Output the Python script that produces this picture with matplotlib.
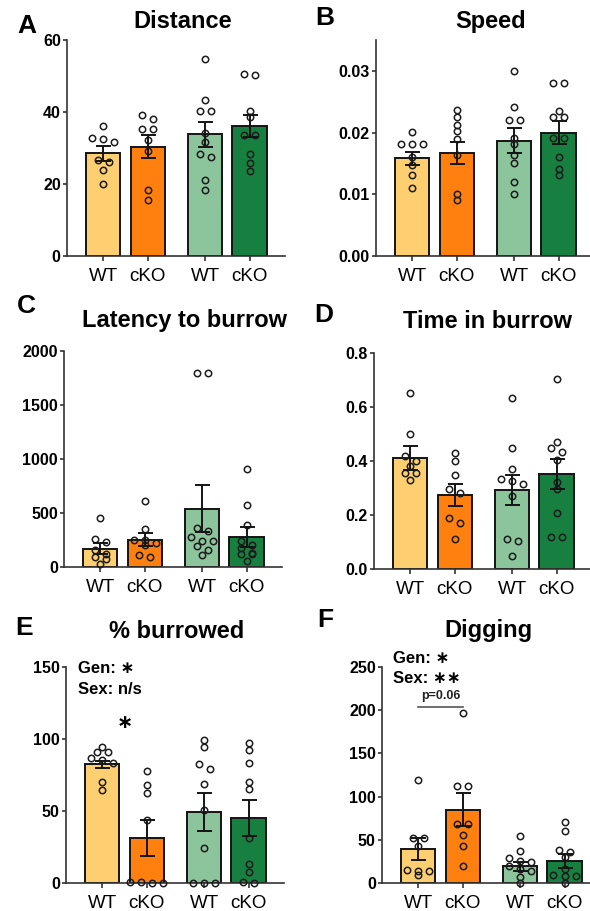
import matplotlib
matplotlib.use('Agg')
from matplotlib import pyplot as plt
import numpy as np

plt.rcParams['font.family'] = ['Liberation Sans', 'DejaVu Sans']

W, H, DPI = 590, 911, 100

labels = ['WT', 'cKO', 'WT', 'cKO']
colors = ['#fdcf70', '#ff800e', '#8cc49c', '#178040']

# A - distance
dist_mean = [28.5, 30.3, 33.8, 36.1]
dist_sem = [2.0, 3.2, 3.5, 3.0]
dist_wt_f = [36.0, 32.9, 32.6, 31.7, 26.6, 26.1, 23.8, 20.1]
dist_ko_f = [39.2, 38.1, 35.4, 35.4, 32.1, 29.1, 18.3, 15.5]
dist_wt_m = [54.8, 43.2, 40.2, 40.2, 34.2, 31.7, 28.4, 27.5, 21.1, 18.3]
dist_ko_m = [50.6, 50.4, 40.2, 38.6, 33.7, 33.7, 28.4, 25.9, 23.5]

# B - speed
speed_mean = [0.0158, 0.0167, 0.0187, 0.0200]
speed_sem = [0.0011, 0.0018, 0.0020, 0.0018]
speed_wt_f = [0.0201, 0.0181, 0.0181, 0.0181, 0.0160, 0.0147, 0.0132, 0.0110]
speed_ko_f = [0.0236, 0.0225, 0.0213, 0.0202, 0.0190, 0.0163, 0.0101, 0.0090]
speed_wt_m = [0.0300, 0.0241, 0.0221, 0.0221, 0.0192, 0.0181, 0.0163, 0.0151, 0.0120, 0.0101]
speed_ko_m = [0.0281, 0.0281, 0.0235, 0.0226, 0.0226, 0.0192, 0.0192, 0.0161, 0.0141, 0.0131]

# C - latency to burrow
lat_mean = [170, 253, 541, 278]
lat_sem = [51, 62, 215, 93]
lat_wt_f = [454, 263, 232, 161, 124, 93, 77, 31]
lat_ko_f = [609, 355, 253, 253, 220, 200, 114, 93]
lat_wt_m = [1800, 1800, 360, 330, 280, 240, 240, 190, 160, 110]
lat_ko_m = [906, 578, 386, 245, 200, 180, 130, 125, 120, 60]

# D - time in burrow
time_mean = [0.412, 0.274, 0.293, 0.351]
time_sem = [0.044, 0.042, 0.056, 0.056]
time_wt_f = [0.65, 0.50, 0.42, 0.40, 0.38, 0.355, 0.355, 0.33]
time_ko_f = [0.43, 0.40, 0.35, 0.295, 0.28, 0.19, 0.17, 0.11]
time_wt_m = [0.634, 0.447, 0.369, 0.332, 0.327, 0.314, 0.272, 0.111, 0.102, 0.049]
time_ko_m = [0.702, 0.471, 0.449, 0.432, 0.404, 0.321, 0.297, 0.207, 0.118, 0.118]

# E - % burrowed
burr_mean = [82.4, 31.2, 49.2, 45.0]
burr_sem = [2.5, 12.3, 13.0, 12.6]
burr_wt_f = [94.6, 90.7, 90.7, 86.5, 85.4, 83.5, 70.4, 64.6]
burr_ko_f = [77.8, 68.1, 62.8, 43.8, 0.7, 0.7, 0, 0]
burr_wt_m = [99.2, 94.6, 82.4, 78.9, 68.5, 50.8, 24.2, 0, 0, 0]
burr_ko_m = [96.9, 92.3, 83.1, 70.4, 65.1, 31.2, 13.4, 7.4, 0.7, 0]

# F - digging
dig_mean = [39.4, 84.9, 19.3, 25.1]
dig_sem = [13.0, 19.5, 5.0, 8.0]
dig_wt_f = [118.8, 52.1, 52.1, 43.2, 15.4, 14.3, 14.3, 8.9]
dig_ko_f = [196.8, 111.9, 111.9, 68.7, 68.7, 55.9, 42.4, 20.1]
dig_wt_m = [54.0, 37.4, 28.9, 25.1, 23.9, 20.1, 16.2, 14.3, 6.9, 0]
dig_ko_m = [70.2, 59.8, 37.8, 35.5, 30.0, 16.2, 9.6, 8.5, 7.7, 0]

xpos = np.array([0, 1, 2.3, 3.3])
bar_w = 0.77
AX_W = 217.5  # px
AX_H = 216.0  # px


def box(left, top):
    return [left / W, 1 - (top + AX_H) / H, AX_W / W, AX_H / H]


def swarm(vals, ppy, step=0.25, thr=5.5):
    # graphpad-like rows: points close in y share a row, centred on the bar
    vals = np.asarray(vals, dtype=float)
    order = np.argsort(-vals, kind='stable')
    rows = []
    for i in order:
        if rows and (vals[rows[-1][0]] - vals[i]) * ppy < thr:
            rows[-1].append(i)
        else:
            rows.append([i])
    offs = np.zeros(len(vals))
    for row in rows:
        n = len(row)
        for k, i in enumerate(row):
            offs[i] = (k - (n - 1) / 2) * step
    return offs


def panel(ax, groups, means, sems, ytop, yticks, fmt):
    ax.bar(xpos, means, width=bar_w, color=colors, edgecolor='#141414',
           linewidth=1.4, zorder=1)
    ppy = AX_H / ytop
    for x, vals in zip(xpos, groups):
        ax.plot(x + swarm(vals, ppy), vals, 'o', ms=4.6, mfc='none',
                mec='#1c1c1c', mew=1.1, zorder=3, clip_on=False)
    ax.errorbar(xpos, means, yerr=sems, fmt='none', ecolor='#141414',
                elinewidth=1.4, capsize=5.4, capthick=1.4, zorder=4)
    ax.set_xlim(-0.82, 4.09)
    ax.set_ylim(0, ytop)
    ax.set_yticks(yticks, labels=[fmt % v for v in yticks],
                  fontsize=11.5, fontweight='bold')
    ax.set_xticks(xpos, labels=labels, fontsize=13.5)
    ax.tick_params(axis='y', length=3, width=1.2, pad=1.5, color='#333333')
    ax.tick_params(axis='x', length=3.5, width=1.2, pad=5, color='#333333')
    for s in ('top', 'right'):
        ax.spines[s].set_visible(False)
    for s in ('left', 'bottom'):
        ax.spines[s].set_linewidth(1.2)
        ax.spines[s].set_color('#333333')


def ftext(x, y, s, **kw):
    fig.text(x / W, 1 - y / H, s, **kw)


fig = plt.figure(figsize=(W / DPI, H / DPI), dpi=DPI)

axA = fig.add_axes(box(67, 40))
panel(axA, [dist_wt_f, dist_ko_f, dist_wt_m, dist_ko_m], dist_mean, dist_sem,
      60, [0, 20, 40, 60], '%d')
axB = fig.add_axes(box(376, 40))
panel(axB, [speed_wt_f, speed_ko_f, speed_wt_m, speed_ko_m], speed_mean,
      speed_sem, 0.035, [0, 0.01, 0.02, 0.03], '%.2f')
axC = fig.add_axes(box(64, 351))
panel(axC, [lat_wt_f, lat_ko_f, lat_wt_m, lat_ko_m], lat_mean, lat_sem,
      2000, [0, 500, 1000, 1500, 2000], '%d')
axD = fig.add_axes(box(374, 353))
panel(axD, [time_wt_f, time_ko_f, time_wt_m, time_ko_m], time_mean, time_sem,
      0.8, [0, 0.2, 0.4, 0.6, 0.8], '%.1f')
axE = fig.add_axes(box(66, 667))
panel(axE, [burr_wt_f, burr_ko_f, burr_wt_m, burr_ko_m], burr_mean, burr_sem,
      150, [0, 50, 100, 150], '%d')
axF = fig.add_axes(box(382, 667))
panel(axF, [dig_wt_f, dig_ko_f, dig_wt_m, dig_ko_m], dig_mean, dig_sem,
      250, [0, 50, 100, 150, 200, 250], '%d')

# titles and panel letters (pixel positions, baseline)
title_kw = dict(fontsize=17, fontweight='bold', ha='center', va='baseline')
letter_kw = dict(fontsize=19, fontweight='bold', ha='center', va='baseline')
ftext(183, 28, 'Distance', **title_kw)
ftext(491, 28, 'Speed', **title_kw)
ftext(184, 327, 'Latency to burrow', **title_kw)
ftext(488, 328, 'Time in burrow', **title_kw)
ftext(177, 638, '% burrowed', **title_kw)
ftext(488, 637, 'Digging', **title_kw)
ftext(27, 33, 'A', **letter_kw)
ftext(325, 25, 'B', **letter_kw)
ftext(26, 313, 'C', **letter_kw)
ftext(324, 322, 'D', **letter_kw)
ftext(24, 635, 'E', **letter_kw)
ftext(325, 627, 'F', **letter_kw)

# stats annotations
ann_kw = dict(fontsize=12, fontweight='bold', ha='left', va='baseline')
ftext(78, 673, 'Gen: \u2217', **ann_kw)
ftext(78, 694, 'Sex: n/s', **ann_kw)
axE.text(0.5, 111, '\u2217', fontsize=14, fontweight='bold',
         ha='center', va='center')

ftext(393, 663, 'Gen: \u2217', **ann_kw)
ftext(393, 683, 'Sex: \u2217\u2217', **ann_kw)
axF.plot([xpos[0], xpos[1]], [204, 204], color='#555555', lw=1.2)
axF.text((xpos[0] + xpos[1]) / 2, 209, 'p=0.06', fontsize=9,
         fontweight='bold', ha='center', va='bottom', color='#222222')

fig.savefig('out.png', dpi=DPI)
